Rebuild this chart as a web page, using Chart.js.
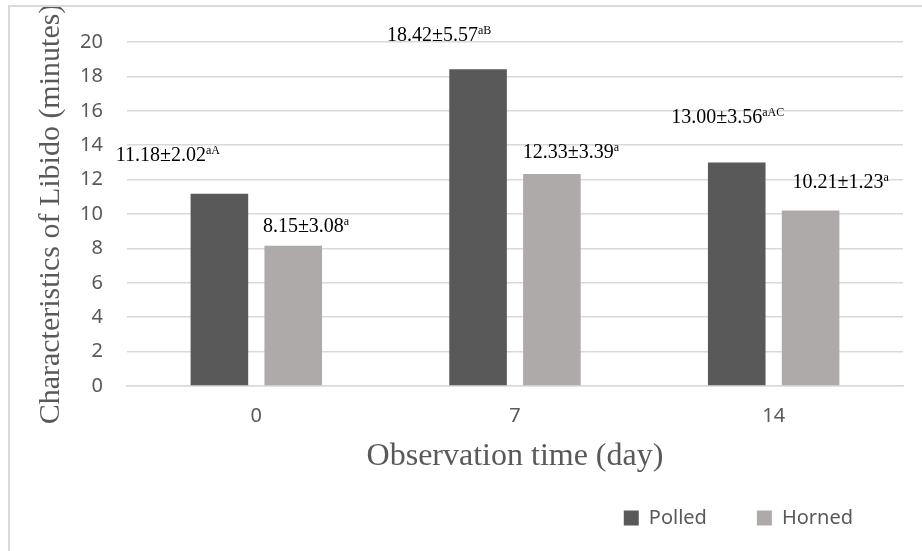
<!DOCTYPE html>
<html>
<head>
<meta charset="utf-8">
<script src="https://cdn.jsdelivr.net/npm/chart.js@4.4.1/dist/chart.umd.min.js"></script>
<style>
  html, body { margin: 0; padding: 0; background: #fff; overflow: hidden; }
  #wrap { position: relative; width: 922px; height: 551px; }
  #frame { position: absolute; left: 8px; top: 5px; width: 940px; height: 570px; border: 2px solid #d9d9d9; box-sizing: border-box; pointer-events: none; }
</style>
</head>
<body>
<div id="wrap">
  <div id="frame"></div>
  <canvas id="libidoChart"></canvas>
</div>
<script>
const days = ['0', '7', '14'];
const polledMeans = [11.18, 18.42, 13.00];
const polledSd = [2.02, 5.57, 3.56];
const polledSup = ['aA', 'aB', 'aAC'];
const hornedMeans = [8.15, 12.33, 10.21];
const hornedSd = [3.08, 3.39, 1.23];
const hornedSup = ['a', 'a', 'a'];

// label offset from the top-centre of each bar (polled row, horned row)
const labelShift = [
  [[-51.5, -39.5], [-39, -35.4], [-9, -46.9]],
  [[12.8, -21.2], [19, -23], [30, -29]]
];

//mean ± sd labels with superscript letters
const meanLabels = {
  id: 'meanLabels',
  afterDatasetsDraw(chart) {
    const ctx = chart.ctx;
    const sds = [polledSd, hornedSd];
    const sups = [polledSup, hornedSup];
    chart.data.datasets.forEach((ds, d) => {
      chart.getDatasetMeta(d).data.forEach((bar, i) => {
        const main = ds.data[i].toFixed(2) + '±' + sds[d][i].toFixed(2);
        ctx.save();
        ctx.font = '20px "Liberation Serif"';
        const w1 = ctx.measureText(main).width;
        ctx.font = '12px "Liberation Serif"';
        const w2 = ctx.measureText(sups[d][i]).width;
        const cx = bar.x + labelShift[d][i][0];
        const cy = bar.y + labelShift[d][i][1];
        const x0 = cx - (w1 + w2) / 2;
        const base = cy + 7;
        ctx.fillStyle = '#000';
        ctx.textAlign = 'left';
        ctx.textBaseline = 'alphabetic';
        ctx.font = '20px "Liberation Serif"';
        ctx.fillText(main, x0, base);
        ctx.font = '12px "Liberation Serif"';
        ctx.fillText(sups[d][i], x0 + w1, base - 7);
        ctx.restore();
      });
    });
  }
};

const ctx = document.getElementById('libidoChart');

new Chart(ctx, {
  type: 'bar',
  data: {
    labels: days,
    datasets: [
      { label: 'Polled', data: polledMeans, backgroundColor: '#595959' },
      { label: 'Horned', data: hornedMeans, backgroundColor: '#aeaaaa' }
    ]
  },
  options: {
    responsive: true,
    maintainAspectRatio: false,
    animation: false,
    layout: { padding: { left: 10, right: 19, top: 42, bottom: 13 } },
    datasets: { bar: { categoryPercentage: 0.571, barPercentage: 0.78 } },
    scales: {
      x: {
        grid: { display: false, drawTicks: false },
        border: { color: '#d9d9d9', width: 1.5 },
        ticks: { color: '#595959', font: { family: 'Noto Sans', size: 20 }, padding: 18 },
        title: {
          display: true,
          text: 'Observation time (day)',
          color: '#595959',
          font: { family: 'Liberation Serif', size: 32 },
          padding: { top: -8.2, bottom: -18.2 }
        }
      },
      y: {
        min: 0,
        max: 20,
        ticks: { stepSize: 2, color: '#595959', font: { family: 'Noto Sans', size: 20 }, padding: 24 },
        grid: { color: '#d9d9d9', lineWidth: 1.5, drawTicks: false },
        border: { display: false },
        title: {
          display: true,
          text: 'Characteristics of Libido (minutes)',
          color: '#595959',
          font: { family: 'Liberation Serif', size: 30 },
          padding: { top: 23.5, bottom: -13.4 }
        }
      }
    },
    plugins: {
      legend: {
        position: 'bottom',
        align: 'end',
        fullSize: false,
        labels: {
          boxWidth: 15,
          boxHeight: 15,
          padding: 50,
          color: '#595959',
          font: { family: 'Noto Sans', size: 20 }
        }
      },
      tooltip: { enabled: false }
    }
  },
  plugins: [meanLabels]
});
</script>
</body>
</html>
